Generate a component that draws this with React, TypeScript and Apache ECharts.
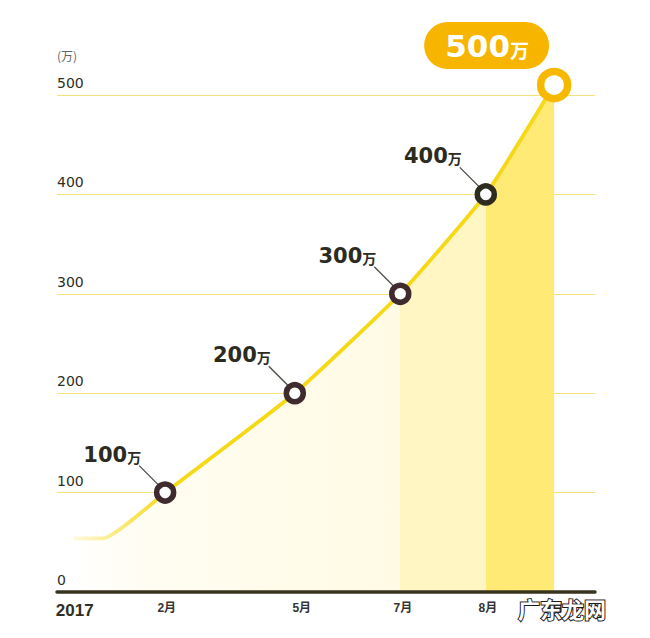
import React, { useEffect, useRef } from "react";
import * as echarts from "echarts";

// x positions are on a 0–100 horizontal scale of the plot width
const curveX = [3.0, 8.6, 20.1, 44.2, 63.8, 79.7, 92.4];
const curveY = [54, 54, 100, 200, 300, 400, 510];
const milestoneStart = 2;
const milestoneLabels = ["100", "200", "300", "400", "500"];
const markerBorders = ["#3F2A2E", "#3F2A2E", "#3F2A2E", "#2E2C1E", "#F7B800"];

const monthLabels = ["2017", "2月", "5月", "7月", "8月", "9月"];
const monthPos = [3.3, 20.4, 45.5, 64.3, 80.1, 92.4];

const yTicks = [0, 100, 200, 300, 400, 500];

export default function App() {
  const ref = useRef<HTMLDivElement>(null);
  useEffect(() => {
    document.body.style.margin = "0";
    const chart = echarts.init(ref.current!, null, { renderer: "svg" });
    const first = curveX[0];
    const last = curveX[curveX.length - 1];
    const s7 = (curveX[4] - first) / (last - first);
    const s8 = (curveX[5] - first) / (last - first);
    const lastIdx = milestoneLabels.length - 1;

    const lineData = curveX.map((x, i) => {
      if (i < milestoneStart) return { value: [x, curveY[i]], symbol: "none" };
      const m = i - milestoneStart;
      const big = m === lastIdx;
      return {
        value: [x, curveY[i]],
        symbol: "circle",
        symbolSize: big ? 27 : 17,
        itemStyle: {
          color: "#FFFFFF",
          borderColor: markerBorders[m],
          borderWidth: big ? 7.5 : 5.5,
        },
      };
    });

    const milestoneData = milestoneLabels.map((l, m) => [
      curveX[m + milestoneStart],
      curveY[m + milestoneStart],
      l,
    ]);

    chart.setOption({
      animation: false,
      grid: { left: 57, right: 55, top: 95, bottom: 46 },
      xAxis: {
        type: "value",
        min: 0,
        max: 100,
        z: 10,
        splitLine: { show: false },
        axisTick: { show: false },
        axisLine: { show: true, lineStyle: { color: "#38331F", width: 3.5 } },
        axisLabel: {
          customValues: monthPos,
          margin: 10,
          color: "#333333",
          fontSize: 12,
          fontWeight: "bold",
          fontFamily: "Liberation Sans, Noto Sans CJK SC",
          formatter: (v: number) => {
            const i = monthPos.indexOf(v);
            if (i === 0) return "{y|" + monthLabels[0] + "}";
            return i >= 0 ? monthLabels[i] : "";
          },
          rich: {
            y: {
              fontSize: 17,
              fontWeight: "bold",
              color: "#2E2E24",
              fontFamily: "Liberation Sans",
            },
          },
        },
      },
      yAxis: {
        type: "value",
        min: yTicks[0],
        max: yTicks[yTicks.length - 1],
        interval: 100,
        name: "(万)",
        nameLocation: "end",
        nameGap: 34,
        nameTextStyle: {
          align: "left",
          color: "#666666",
          fontSize: 12,
          fontFamily: "Noto Sans CJK SC",
        },
        axisLine: { show: false },
        axisTick: { show: false },
        splitLine: { lineStyle: { color: "#F5E27C", width: 1 } },
        axisLabel: {
          inside: true,
          margin: 0,
          align: "left",
          verticalAlign: "bottom",
          padding: [0, 0, 5, 0],
          color: "#2E2E24",
          fontSize: 14,
          fontFamily: "DejaVu Sans",
        },
      },
      series: [
        {
          type: "line",
          data: lineData,
          smooth: 0.15,
          clip: false,
          z: 3,
          lineStyle: {
            width: 3.8,
            color: new echarts.graphic.LinearGradient(0, 0, 1, 0, [
              { offset: 0, color: "rgba(247,219,30,0.15)" },
              { offset: 0.2, color: "#F5D816" },
              { offset: 1, color: "#F5D816" },
            ]),
          },
          areaStyle: {
            origin: 0,
            opacity: 1,
            color: new echarts.graphic.LinearGradient(0, 0, 1, 0, [
              { offset: 0, color: "rgba(255,250,225,0)" },
              { offset: 0.25, color: "#FFFDF0" },
              { offset: s7, color: "#FFFAE3" },
              { offset: s7, color: "#FFF6C4" },
              { offset: s8, color: "#FFF6C4" },
              { offset: s8, color: "#FFEA76" },
              { offset: 1, color: "#FFEA76" },
            ]),
          },
          emphasis: { disabled: true },
        },
        {
          type: "custom",
          z: 2,
          silent: true,
          data: milestoneData,
          renderItem: (params: any, api: any) => {
            const p = api.coord([api.value(0), api.value(1)]);
            const label = milestoneLabels[params.dataIndex];
            if (params.dataIndex === lastIdx) {
              return {
                type: "group",
                children: [
                  {
                    type: "rect",
                    shape: { x: p[0] - 130, y: p[1] - 63, width: 125, height: 47, r: 23.5 },
                    style: { fill: "#F7B500" },
                  },
                  {
                    type: "text",
                    x: p[0] - 67,
                    y: p[1] - 39,
                    style: {
                      text: "{a|" + label + "}{b|万}",
                      align: "center",
                      verticalAlign: "middle",
                      rich: {
                        a: { fontSize: 31, fontWeight: "bold", fill: "#FFFFFF", fontFamily: "DejaVu Sans" },
                        b: { fontSize: 19, fontWeight: "bold", fill: "#FFFFFF", fontFamily: "Noto Sans CJK SC", padding: [6, 0, 0, 0] },
                      },
                    },
                  },
                ],
              };
            }
            return {
              type: "group",
              children: [
                {
                  type: "line",
                  shape: { x1: p[0] - 26, y1: p[1] - 27, x2: p[0] - 7, y2: p[1] - 8 },
                  style: { stroke: "#4A4A44", lineWidth: 1.3 },
                },
                {
                  type: "text",
                  x: p[0] - 24,
                  y: p[1] - 38,
                  style: {
                    text: "{a|" + label + "}{b|万}",
                    align: "right",
                    verticalAlign: "middle",
                    rich: {
                      a: { fontSize: 21, fontWeight: "bold", fill: "#2B2B1F", fontFamily: "DejaVu Sans" },
                      b: { fontSize: 14, fontWeight: "bold", fill: "#2B2B1F", fontFamily: "Noto Sans CJK SC", padding: [4, 0, 0, 0] },
                    },
                  },
                },
              ],
            };
          },
        },
      ],
      graphic: [
        {
          type: "text",
          left: 517,
          top: 596,
          z: 100,
          style: {
            text: "广东龙网",
            fontSize: 22,
            fontWeight: "bold",
            fontFamily: "Noto Sans CJK SC",
            fill: "#FFFFFF",
            stroke: "#1E1E1E",
            lineWidth: 2,
          },
        },
      ],
    });
    return () => chart.dispose();
  }, []);
  return <div ref={ref} style={{ width: 650, height: 638 }} />;
}
